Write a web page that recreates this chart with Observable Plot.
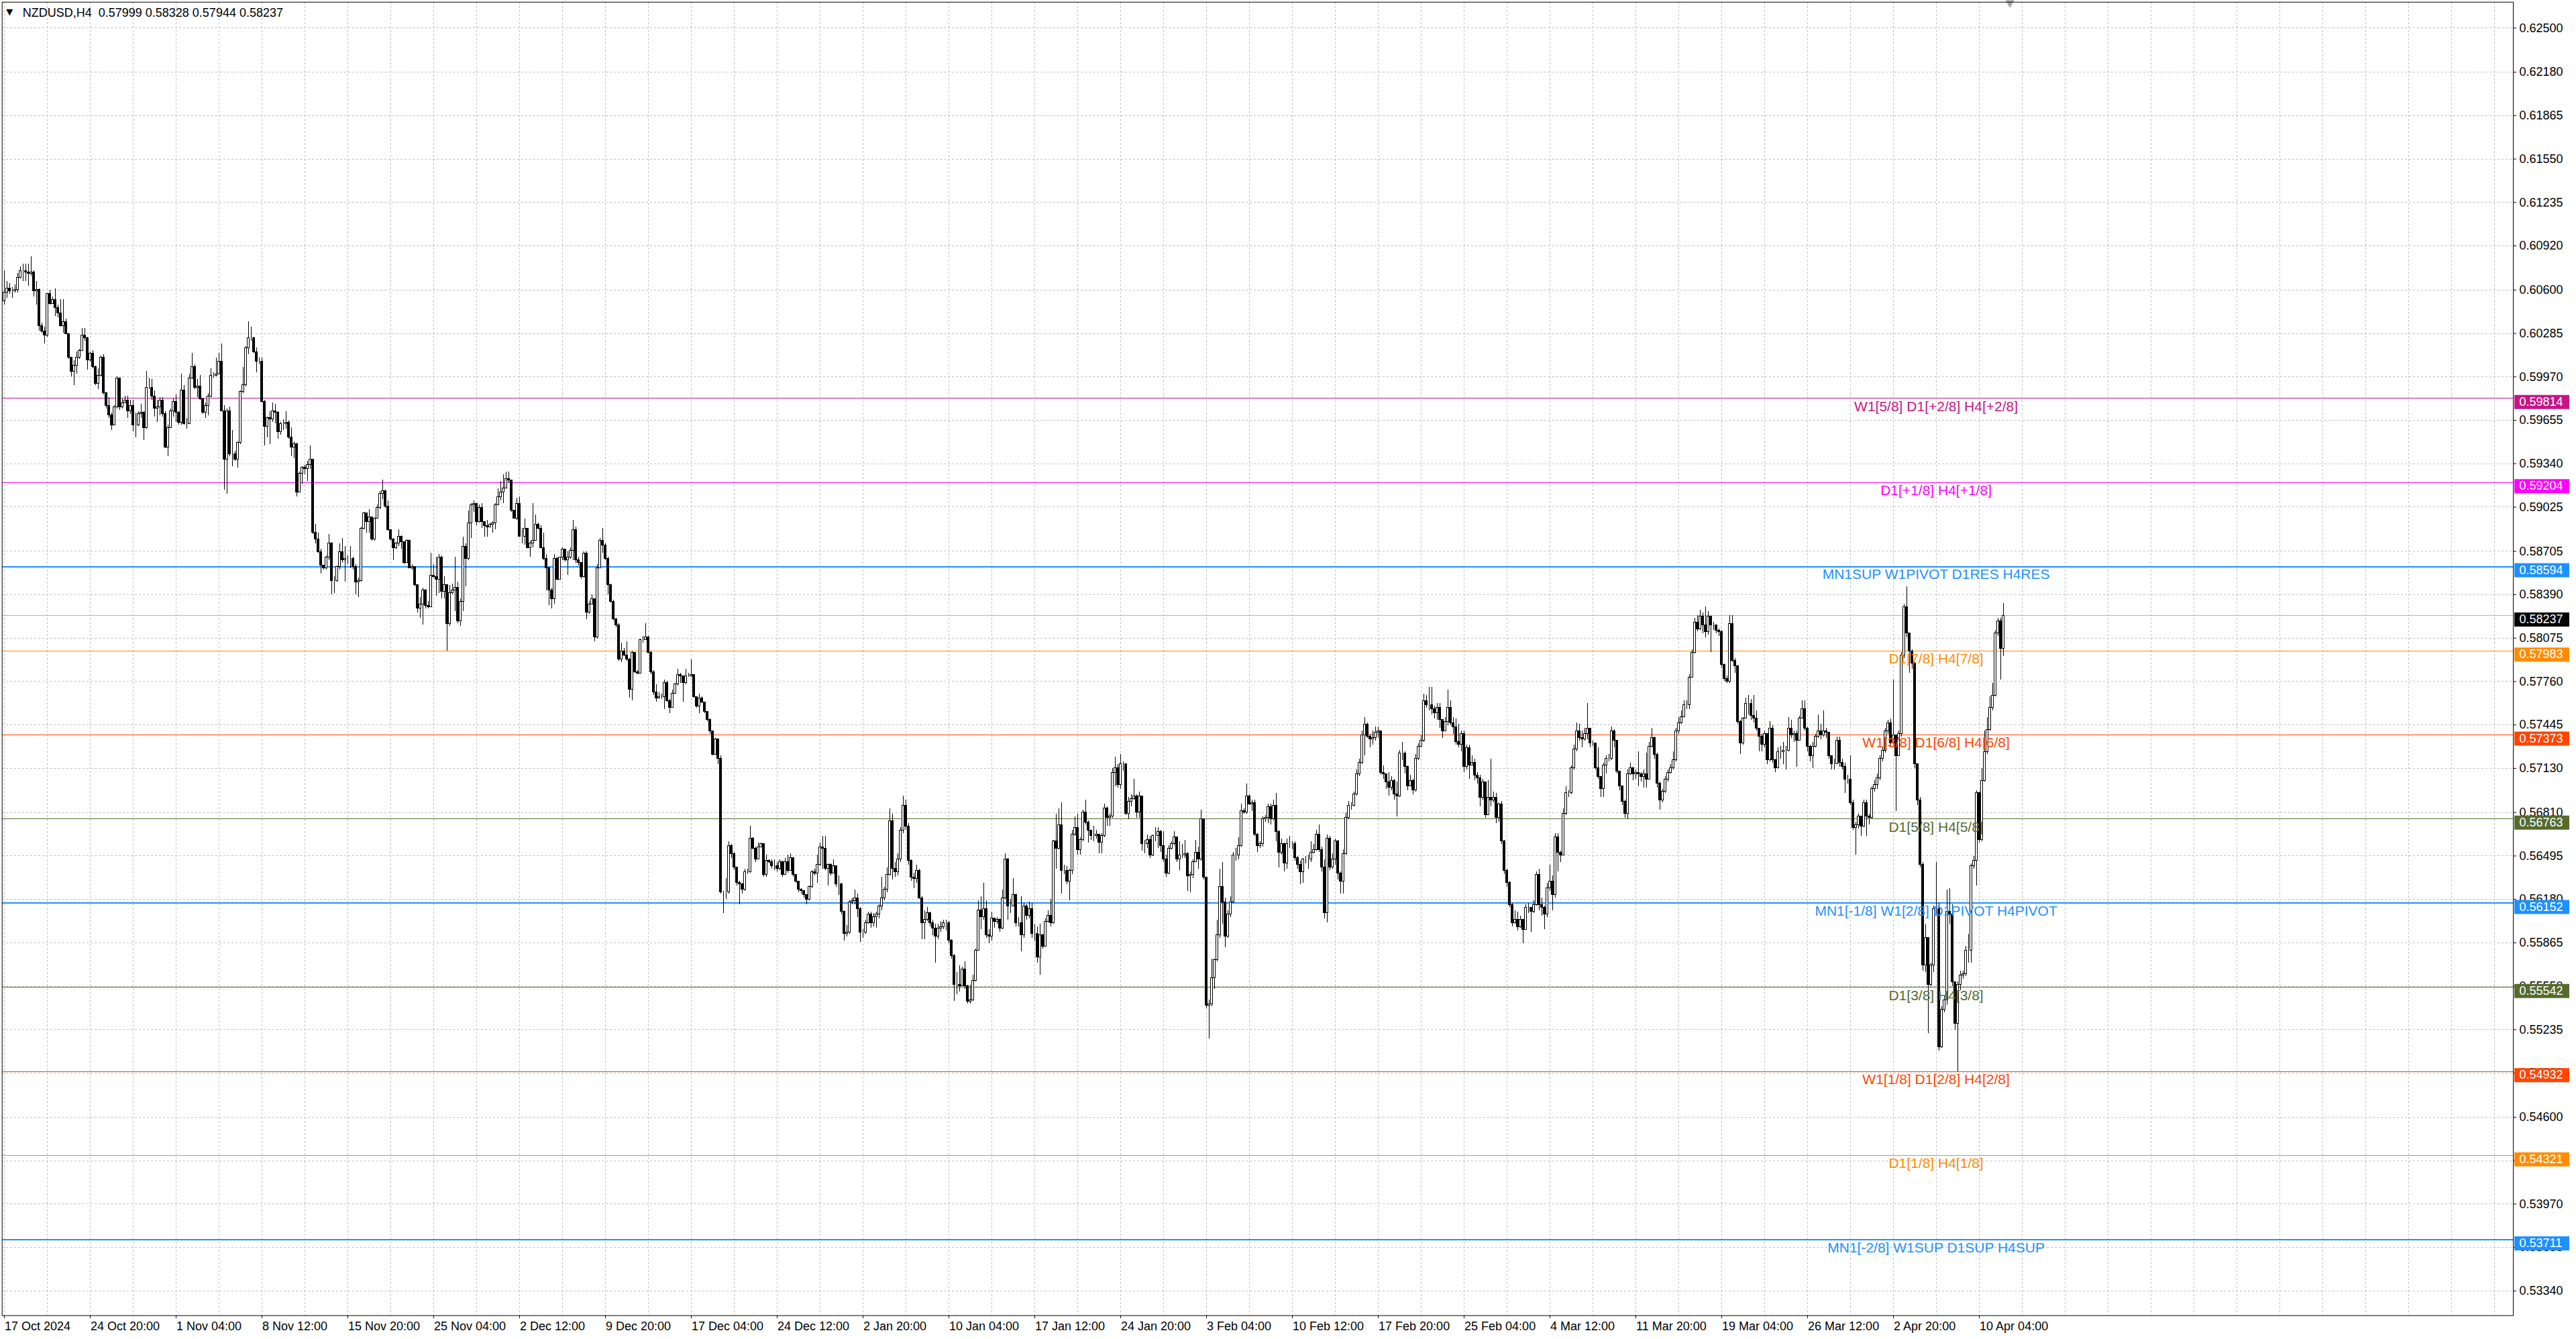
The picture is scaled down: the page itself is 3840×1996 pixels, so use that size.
<!DOCTYPE html>
<html>
<head>
<meta charset="utf-8">
<script src="https://cdn.jsdelivr.net/npm/d3@7"></script>
<script src="https://cdn.jsdelivr.net/npm/@observablehq/plot@0.6"></script>
<style>
html,body{margin:0;padding:0;background:#fff;overflow:hidden}
#chart svg{display:block}
</style>
</head>
<body>
<div id="chart"></div>
<script>
// ---- DATA (NZDUSD H4 candles, prices in pips = 1e-4) ----
const symbolName = "NZDUSD,H4";
const openFirst = 6052;
const closes = [
6058,6061,6059,6059,6060,6069,6074,6074,6073,6072,
6073,6059,6060,6034,6030,6027,6057,6050,6053,6047,
6043,6034,6037,6028,6011,6001,6005,6011,6016,6027,
6025,6009,6014,6004,5992,5998,6011,5985,5976,5969,
5962,5975,5996,5975,5978,5980,5972,5976,5962,5962,
5970,5971,5960,5989,5989,5983,5974,5975,5980,5970,
5946,5960,5972,5979,5971,5964,5987,5963,5963,5996,
6004,5989,5990,5981,5971,5976,5983,5998,5998,5999,
6008,5972,5937,5972,5941,5941,5937,5949,5986,5991,
6018,6025,6025,6015,6008,6008,5979,5961,5967,5966,
5972,5971,5957,5963,5963,5964,5953,5946,5948,5913,
5927,5931,5930,5933,5937,5884,5879,5870,5860,5858,
5866,5876,5849,5849,5859,5870,5864,5865,5865,5865,
5859,5848,5849,5887,5898,5892,5895,5879,5894,5902,
5912,5914,5903,5886,5879,5873,5876,5881,5877,5862,
5878,5858,5859,5846,5829,5832,5842,5831,5830,5853,
5852,5850,5866,5841,5846,5818,5840,5842,5844,5820,
5834,5874,5865,5891,5904,5905,5892,5902,5892,5889,
5888,5890,5891,5904,5910,5913,5916,5923,5922,5900,
5894,5905,5881,5881,5887,5873,5876,5878,5890,5887,
5873,5865,5858,5842,5836,5865,5850,5866,5872,5864,
5866,5871,5886,5864,5862,5852,5869,5826,5832,5836,
5808,5858,5878,5875,5865,5846,5834,5821,5817,5792,
5798,5795,5792,5770,5797,5783,5782,5806,5806,5808,
5797,5783,5768,5764,5765,5765,5775,5762,5757,5767,
5774,5781,5780,5775,5780,5780,5781,5765,5758,5764,
5761,5754,5748,5740,5723,5734,5720,5623,5623,5623,
5657,5651,5641,5630,5629,5625,5638,5638,5662,5655,
5647,5656,5658,5636,5646,5645,5642,5642,5640,5645,
5636,5645,5639,5648,5636,5631,5625,5624,5621,5618,
5627,5638,5637,5643,5656,5655,5640,5643,5637,5642,
5629,5629,5609,5593,5594,5616,5617,5619,5611,5594,
5594,5601,5607,5601,5605,5607,5613,5619,5625,5636,
5675,5640,5638,5647,5668,5686,5671,5646,5634,5633,
5639,5619,5601,5603,5608,5601,5597,5591,5597,5598,
5601,5601,5588,5577,5556,5556,5555,5567,5555,5544,
5545,5559,5581,5610,5605,5611,5592,5591,5604,5602,
5603,5597,5619,5647,5613,5613,5621,5601,5601,5592,
5613,5606,5611,5593,5593,5576,5592,5584,5602,5606,
5601,5660,5655,5672,5639,5639,5631,5639,5665,5670,
5654,5661,5681,5674,5668,5664,5664,5665,5659,5664,
5684,5677,5678,5710,5713,5701,5716,5716,5680,5689,
5691,5693,5681,5693,5658,5658,5661,5650,5664,5664,
5667,5657,5647,5637,5655,5658,5663,5647,5650,5650,
5651,5635,5636,5645,5652,5647,5676,5634,5541,5542,
5561,5574,5592,5627,5616,5591,5607,5616,5650,5650,
5657,5682,5681,5693,5687,5688,5665,5657,5658,5676,
5677,5685,5676,5686,5667,5652,5658,5644,5658,5658,
5658,5648,5643,5638,5647,5647,5647,5652,5654,5665,
5654,5641,5608,5662,5641,5647,5660,5637,5631,5651,
5677,5686,5686,5694,5709,5717,5737,5745,5736,5734,
5735,5739,5740,5710,5709,5703,5699,5704,5694,5693,
5724,5724,5714,5700,5704,5697,5720,5729,5733,5762,
5759,5759,5756,5753,5757,5748,5740,5747,5757,5746,
5743,5732,5730,5738,5714,5728,5715,5717,5708,5706,
5692,5703,5679,5692,5690,5692,5677,5687,5660,5639,
5630,5614,5601,5603,5598,5603,5596,5612,5612,5609,
5614,5636,5614,5612,5607,5626,5631,5621,5663,5652,
5650,5680,5695,5695,5713,5727,5740,5735,5734,5738,
5742,5731,5731,5713,5707,5698,5715,5720,5720,5740,
5733,5711,5700,5689,5680,5709,5713,5709,5710,5709,
5707,5709,5705,5729,5735,5723,5702,5690,5696,5705,
5710,5713,5719,5740,5746,5750,5759,5759,5779,5797,
5819,5814,5823,5817,5812,5823,5817,5817,5813,5812,
5788,5778,5776,5818,5791,5787,5747,5731,5749,5760,
5760,5751,5749,5742,5736,5730,5738,5719,5742,5719,
5713,5725,5725,5726,5726,5742,5737,5738,5733,5749,
5756,5742,5729,5722,5729,5736,5740,5737,5740,5739,
5722,5716,5716,5733,5717,5714,5705,5705,5688,5670,
5672,5678,5671,5688,5678,5677,5698,5701,5706,5720,
5726,5740,5746,5731,5737,5722,5738,5795,5830,5811,
5798,5789,5716,5690,5643,5570,5590,5556,5570,5611,
5611,5511,5538,5545,5609,5607,5558,5528,5556,5563,
5564,5581,5581,5642,5646,5695,5661,5704,5725,5741,
5757,5766,5811,5820,5799.9,5823.7
];
const highs = [
6074,6066,6065,6062,6064,6072,6077,6079,6079,6079,
6084,6074,6066,6061,6036,6033,6057,6060,6055,6061,
6049,6053,6053,6039,6029,6011,6009,6015,6017,6032,
6032,6026,6015,6016,6005,6003,6012,6013,5986,5982,
5971,5976,5997,5996,5981,5983,5983,5980,5980,5971,
5972,5977,5972,6001,5996,5995,5987,5980,5982,5982,
5972,5962,5974,5981,5984,5972,5999,5991,5967,5999,
6014,6006,5995,5998,5981,5978,5985,6003,6000,6011,
6014,6021,5976,5974,5975,5958,5943,5950,5987,6004,
6019,6037,6033,6026,6018,6011,6011,5980,5968,5972,
5978,5977,5972,5964,5966,5972,5965,5960,5950,5949,
5928,5932,5933,5936,5947,5937,5890,5884,5872,5860,
5867,5883,5877,5852,5860,5876,5880,5874,5867,5874,
5866,5861,5851,5888,5899,5893,5901,5889,5895,5904,
5914,5922,5915,5907,5886,5880,5877,5886,5882,5877,
5879,5879,5861,5859,5846,5837,5844,5843,5834,5869,
5861,5866,5868,5867,5852,5846,5846,5847,5866,5848,
5836,5881,5876,5900,5905,5907,5905,5904,5905,5892,
5893,5891,5892,5905,5916,5921,5926,5928,5928,5915,
5900,5909,5910,5887,5894,5885,5878,5905,5897,5891,
5889,5884,5868,5859,5844,5868,5866,5866,5873,5872,
5870,5873,5893,5888,5866,5861,5870,5870,5834,5839,
5835,5861,5880,5887,5876,5866,5847,5835,5822,5818,
5804,5800,5805,5793,5798,5797,5784,5807,5809,5818,
5809,5798,5784,5774,5768,5767,5777,5776,5763,5770,
5775,5785,5782,5778,5785,5782,5792,5780,5764,5767,
5765,5760,5754,5749,5740,5735,5734,5722,5624,5633,
5660,5658,5652,5641,5631,5630,5640,5640,5671,5663,
5656,5659,5659,5658,5650,5647,5647,5647,5645,5647,
5646,5648,5650,5651,5648,5636,5631,5626,5624,5621,
5628,5639,5640,5650,5659,5664,5664,5644,5644,5647,
5642,5635,5630,5610,5599,5617,5619,5625,5622,5612,
5596,5603,5609,5609,5608,5609,5614,5634,5627,5641,
5684,5680,5645,5651,5670,5693,5690,5673,5647,5637,
5643,5640,5620,5610,5612,5609,5603,5600,5600,5602,
5603,5603,5602,5589,5578,5565,5570,5569,5573,5556,
5556,5563,5582,5617,5620,5630,5617,5596,5609,5604,
5605,5604,5625,5651,5648,5618,5633,5622,5605,5620,
5615,5614,5616,5615,5600,5598,5600,5593,5604,5610,
5618,5661,5680,5684,5688,5643,5642,5640,5668,5678,
5680,5663,5683,5690,5675,5668,5671,5668,5665,5666,
5687,5685,5680,5713,5721,5716,5723,5718,5703,5692,
5694,5705,5694,5696,5692,5661,5665,5664,5665,5670,
5670,5668,5667,5650,5657,5660,5667,5662,5660,5658,
5661,5652,5638,5647,5661,5656,5683,5676,5593,5545,
5575,5575,5603,5640,5645,5619,5610,5620,5652,5655,
5663,5687,5684,5702,5694,5690,5690,5666,5660,5678,
5679,5687,5687,5690,5695,5668,5662,5659,5662,5664,
5660,5660,5649,5646,5648,5649,5650,5660,5658,5668,
5672,5656,5647,5665,5664,5651,5662,5661,5638,5654,
5681,5689,5688,5696,5712,5720,5740,5750,5746,5738,
5740,5743,5743,5735,5715,5709,5710,5707,5705,5703,
5726,5732,5725,5715,5708,5705,5723,5731,5737,5767,
5766,5772,5772,5758,5760,5760,5748,5750,5770,5762,
5750,5749,5745,5740,5740,5730,5730,5722,5720,5710,
5708,5705,5700,5704,5720,5696,5695,5688,5689,5661,
5640,5631,5615,5610,5609,5606,5601,5614,5615,5612,
5617,5638,5640,5619,5613,5630,5643,5635,5666,5666,
5653,5684,5700,5697,5715,5730,5746,5745,5740,5742,
5760,5742,5733,5731,5728,5707,5717,5722,5723,5743,
5741,5733,5710,5700,5690,5712,5717,5714,5712,5725,
5710,5712,5724,5732,5742,5736,5724,5703,5698,5707,
5712,5716,5725,5742,5750,5755,5762,5762,5781,5799,
5822,5824,5828,5826,5830,5827,5820,5819,5817,5814,
5813,5789,5780,5824,5824,5793,5788,5748,5750,5764,
5766,5763,5766,5755,5740,5738,5740,5735,5747,5744,
5720,5728,5729,5732,5729,5750,5748,5740,5740,5751,
5762,5762,5743,5730,5732,5738,5752,5745,5755,5742,
5738,5722,5720,5736,5736,5720,5717,5708,5722,5690,
5674,5680,5676,5690,5690,5680,5700,5704,5709,5722,
5728,5742,5748,5749,5777,5737,5740,5797,5832,5845,
5808,5799,5790,5716,5692,5645,5600,5572,5572,5613,
5645,5615,5540,5548,5625,5626,5614,5558,5558,5566,
5566,5584,5593,5644,5649,5697,5696,5713,5740,5750,
5765,5775,5813,5822,5822,5832.8
];
const lows = [
6049,6054,6057,6054,6058,6058,6068,6066,6066,6063,
6070,6055,6049,6030,6029,6021,6026,6049,6050,6041,
6040,6033,6029,6028,6010,5997,5991,5999,6010,6016,
6023,6002,6008,6003,5991,5988,5997,5984,5974,5967,
5958,5962,5974,5973,5974,5978,5967,5970,5957,5953,
5961,5967,5951,5959,5988,5980,5968,5964,5969,5968,
5945,5939,5960,5968,5964,5962,5962,5962,5959,5991,
5995,5988,5982,5980,5970,5967,5969,5982,5996,5997,
5999,5972,5915,5912,5939,5932,5936,5931,5948,5985,
5990,6013,6023,6014,6000,6006,5978,5947,5953,5948,
5964,5963,5952,5955,5958,5959,5952,5939,5938,5910,
5913,5919,5926,5921,5930,5883,5876,5869,5854,5857,
5857,5864,5839,5840,5848,5857,5862,5848,5861,5858,
5857,5839,5837,5848,5886,5884,5884,5878,5878,5894,
5901,5908,5902,5885,5878,5864,5872,5874,5872,5861,
5862,5858,5857,5845,5826,5822,5817,5829,5829,5850,
5851,5838,5840,5836,5836,5798,5816,5839,5827,5818,
5816,5827,5845,5864,5880,5899,5889,5891,5887,5881,
5881,5888,5884,5886,5904,5907,5905,5916,5920,5899,
5894,5893,5881,5876,5875,5873,5866,5873,5883,5886,
5873,5864,5842,5831,5829,5832,5849,5850,5864,5863,
5853,5865,5864,5862,5860,5850,5851,5821,5825,5832,
5805,5807,5859,5869,5864,5839,5833,5820,5815,5791,
5790,5794,5791,5764,5762,5782,5781,5782,5804,5806,
5796,5781,5766,5761,5764,5763,5756,5761,5753,5762,
5771,5773,5775,5761,5774,5779,5779,5764,5757,5753,
5760,5753,5747,5738,5722,5724,5716,5622,5608,5618,
5622,5648,5639,5628,5614,5622,5624,5636,5637,5654,
5645,5654,5656,5634,5634,5644,5640,5639,5638,5639,
5634,5643,5637,5644,5634,5630,5623,5622,5619,5614,
5617,5626,5635,5630,5642,5640,5639,5628,5635,5638,
5627,5621,5607,5588,5591,5593,5614,5614,5605,5587,
5590,5593,5600,5597,5598,5597,5604,5610,5617,5623,
5635,5632,5634,5635,5645,5666,5668,5643,5631,5626,
5630,5618,5589,5589,5602,5598,5592,5572,5589,5594,
5596,5595,5586,5575,5544,5549,5551,5555,5553,5542,
5542,5544,5558,5583,5596,5603,5590,5586,5588,5597,
5600,5594,5596,5618,5603,5608,5614,5598,5598,5580,
5590,5603,5604,5590,5588,5572,5563,5582,5584,5601,
5598,5600,5640,5654,5622,5636,5629,5617,5636,5664,
5650,5650,5660,5672,5659,5661,5660,5662,5651,5651,
5663,5671,5671,5677,5700,5699,5698,5711,5679,5676,
5685,5690,5677,5677,5653,5651,5655,5648,5649,5660,
5655,5652,5645,5634,5636,5654,5657,5645,5639,5648,
5648,5624,5623,5633,5645,5640,5646,5632,5539,5517,
5540,5553,5573,5590,5600,5583,5590,5605,5615,5646,
5647,5656,5680,5680,5686,5682,5664,5652,5655,5656,
5674,5673,5672,5675,5660,5641,5650,5638,5640,5655,
5654,5646,5640,5629,5630,5644,5640,5645,5651,5653,
5652,5638,5604,5601,5639,5640,5643,5632,5622,5622,
5650,5676,5683,5685,5693,5707,5716,5722,5735,5728,
5730,5733,5735,5708,5705,5698,5693,5697,5690,5678,
5692,5719,5709,5697,5700,5694,5696,5719,5729,5732,
5757,5755,5752,5749,5748,5742,5735,5744,5744,5744,
5738,5730,5728,5725,5710,5712,5705,5715,5704,5702,
5685,5690,5677,5688,5685,5688,5673,5674,5658,5636,
5627,5612,5598,5600,5595,5597,5586,5599,5608,5594,
5608,5613,5610,5606,5596,5605,5624,5610,5619,5638,
5645,5650,5679,5692,5694,5712,5725,5733,5728,5733,
5734,5728,5729,5712,5705,5692,5692,5709,5718,5719,
5728,5709,5697,5686,5677,5676,5708,5704,5705,5700,
5703,5699,5699,5720,5728,5720,5699,5683,5688,5695,
5703,5709,5712,5718,5738,5745,5755,5756,5756,5779,
5796,5812,5813,5811,5808,5810,5797,5813,5811,5809,
5786,5776,5775,5775,5790,5782,5745,5723,5730,5749,
5752,5748,5746,5740,5725,5725,5728,5716,5718,5717,
5710,5713,5720,5716,5712,5725,5735,5732,5714,5735,
5749,5740,5725,5718,5713,5728,5735,5734,5736,5735,
5720,5712,5712,5718,5714,5712,5695,5702,5686,5668,
5650,5669,5664,5670,5664,5672,5676,5696,5698,5704,
5718,5724,5738,5729,5733,5682,5728,5736,5793,5808,
5782,5785,5713,5686,5641,5566,5565,5521,5555,5565,
5607,5508,5510,5536,5541,5600,5555,5523,5493,5552,
5560,5562,5572,5572,5640,5628,5659,5660,5703,5723,
5740,5755,5765,5809,5777,5794.4
];

// Murrey-math style level lines
const levelPrices = [0.59814, 0.59204, 0.58594, 0.57983, 0.57373, 0.56763, 0.56152, 0.55542, 0.54932, 0.54321, 0.53711];
const levelTexts = [
  "W1[5/8] D1[+2/8] H4[+2/8]",
  "D1[+1/8] H4[+1/8]",
  "MN1SUP W1PIVOT D1RES H4RES",
  "D1[7/8] H4[7/8]",
  "W1[3/8] D1[6/8] H4[6/8]",
  "D1[5/8] H4[5/8]",
  "MN1[-1/8] W1[2/8] D1PIVOT H4PIVOT",
  "D1[3/8] H4[3/8]",
  "W1[1/8] D1[2/8] H4[2/8]",
  "D1[1/8] H4[1/8]",
  "MN1[-2/8] W1SUP D1SUP H4SUP"
];
const levelColors = ["#C71585","#FF00FF","#1E90FF","#FF8C00","#FF4500","#556B2F","#1E90FF","#556B2F","#FF4500","#FF8C00","#1E90FF"];
const levelWidths = [1,1,2,1,1,1,2,1,1,1,2];

const yTickValues = [0.62500,0.62180,0.61865,0.61550,0.61235,0.60920,0.60600,0.60285,0.59970,0.59655,0.59340,0.59025,0.58705,0.58390,0.58075,0.57760,0.57445,0.57130,0.56810,0.56495,0.56180,0.55865,0.55550,0.55235,0.54920,0.54600,0.54285,0.53970,0.53655,0.53340];
const xTickLabels = ["17 Oct 2024","24 Oct 20:00","1 Nov 04:00","8 Nov 12:00","15 Nov 20:00","25 Nov 04:00","2 Dec 12:00","9 Dec 20:00","17 Dec 04:00","24 Dec 12:00","2 Jan 20:00","10 Jan 04:00","17 Jan 12:00","24 Jan 20:00","3 Feb 04:00","10 Feb 12:00","17 Feb 20:00","25 Feb 04:00","4 Mar 12:00","11 Mar 20:00","19 Mar 04:00","26 Mar 12:00","2 Apr 20:00","10 Apr 04:00"];
const barsPerLabel = 32;
const barsPerGrid = 16;

// ---- build tables ----
const pip = 1e-4;
const bars = closes.map((c, i) => ({
  k: i,
  open: (i === 0 ? openFirst : closes[i - 1]) * pip,
  close: c * pip,
  high: highs[i] * pip,
  low: lows[i] * pip
}));
const bull = bars.filter(d => d.close >= d.open);
const bear = bars.filter(d => d.close < d.open);
const levels = levelPrices.map((p, i) => ({price: p, text: levelTexts[i], color: levelColors[i], w: levelWidths[i]}));
const last = bars[bars.length - 1];
const tags = levels.map(d => ({price: d.price, color: d.color})).concat([{price: last.close, color: "#000000"}]);
const xTicks = xTickLabels.map((t, i) => ({k: i * barsPerLabel, t}));

// ---- layout ----
const W = 3840, H = 1996;
const mLeft = 2.7, mRight = 94, mTop = 2.7, mBottom = 35.4;
const kMin = -0.7, kMax = 935.1;
const yMin = 0.53161, yMax = 0.62688;
const pxPerK = (W - mRight - mLeft) / (kMax - kMin);
const pricePerPx = (yMax - yMin) / (H - mTop - mBottom);
const kAtPx = px => kMin + (px - mLeft) / pxPerK;
const labelK = 720;
const font = "'Liberation Sans', Arial, sans-serif";

const headerText = symbolName + "\u00a0\u00a0" + [last.open, last.high, last.low, last.close].map(v => v.toFixed(5)).join(" ");

const chart = Plot.plot({
  width: W,
  height: H,
  marginLeft: mLeft,
  marginRight: mRight,
  marginTop: mTop,
  marginBottom: mBottom,
  x: {domain: [kMin, kMax], axis: null},
  y: {domain: [yMin, yMax], axis: null},
  style: {fontFamily: font, background: "#ffffff", overflow: "visible"},
  marks: [
    // grid
    Plot.ruleY(yTickValues, {stroke: "#c0c0c0", strokeDasharray: "3,3", strokeWidth: 1, shapeRendering: "crispEdges"}),
    Plot.ruleX(d3.range(0, kMax, barsPerGrid), {stroke: "#c0c0c0", strokeDasharray: "3,3", strokeWidth: 1, shapeRendering: "crispEdges"}),
    // level lines
    Plot.ruleY(levels.filter(d => d.w === 1), {y: "price", stroke: "color", strokeWidth: 1, shapeRendering: "crispEdges"}),
    Plot.ruleY(levels.filter(d => d.w === 2), {y: "price", stroke: "color", strokeWidth: 2, shapeRendering: "crispEdges"}),
    // current price line
    Plot.ruleY([last.close], {stroke: "#b4b4b4", strokeWidth: 1, shapeRendering: "crispEdges"}),
    // candles
    Plot.ruleX(bars, {x: "k", y1: "low", y2: "high", stroke: "#000", strokeWidth: 1, shapeRendering: "crispEdges"}),
    Plot.rect(bear, {x1: d => d.k - 0.375, x2: d => d.k + 0.375, y1: "open", y2: "close", fill: "#000", stroke: "#000", strokeWidth: 1, shapeRendering: "crispEdges"}),
    Plot.rect(bull, {x1: d => d.k - 0.375, x2: d => d.k + 0.375, y1: "open", y2: "close", fill: "#fff", stroke: "#000", strokeWidth: 1, shapeRendering: "crispEdges"}),
    // level labels
    Plot.text(levels, {x: () => labelK, y: "price", text: "text", fill: "color", fontSize: 21, dy: 12, textAnchor: "middle", fontFamily: font}),
    // right price axis
    Plot.axisY(yTickValues, {anchor: "right", tickSize: 4, tickPadding: 5, tickFormat: d => d.toFixed(5), fontSize: 18, label: null, fontFamily: font}),
    // price tags
    Plot.ruleY(tags, {y: "price", x1: () => kAtPx(3748), x2: () => kAtPx(3830), stroke: "color", strokeWidth: 21, dy: 5.5}),
    Plot.text(tags, {y: "price", frameAnchor: "right", dx: 9, dy: 5.5, lineAnchor: "middle", text: d => d.price.toFixed(5), fill: "#fff", textAnchor: "start", fontSize: 18, fontFamily: font}),
    // time axis: ticks + labels
    Plot.ruleX(xTicks, {x: "k", y1: () => yMin, y2: () => yMin - 4 * pricePerPx, stroke: "#000", strokeWidth: 1, shapeRendering: "crispEdges"}),
    Plot.text(xTicks, {x: "k", frameAnchor: "bottom", lineAnchor: "middle", dy: 16, dx: 1, text: "t", textAnchor: "start", fontSize: 18, fontFamily: font}),
    // header
    Plot.text(["\u25BC"], {frameAnchor: "top-left", lineAnchor: "middle", dx: 6, dy: 15, text: d => d, textAnchor: "start", fontSize: 13, fontFamily: "'DejaVu Sans', sans-serif"}),
    Plot.text([headerText], {frameAnchor: "top-left", lineAnchor: "middle", dx: 30.5, dy: 16.5, text: d => d, textAnchor: "start", fontSize: 18, fontFamily: font}),
    // chart shift marker
    Plot.dot([bars.length + 1.5], {x: d => d, frameAnchor: "top", symbol: "triangle", rotate: 180, r: 5, fill: "#a8a8a8", stroke: "none", dy: 1}),
    Plot.frame({stroke: "#000", strokeWidth: 1})
  ]
});
document.getElementById("chart").appendChild(chart);
</script>
</body>
</html>
